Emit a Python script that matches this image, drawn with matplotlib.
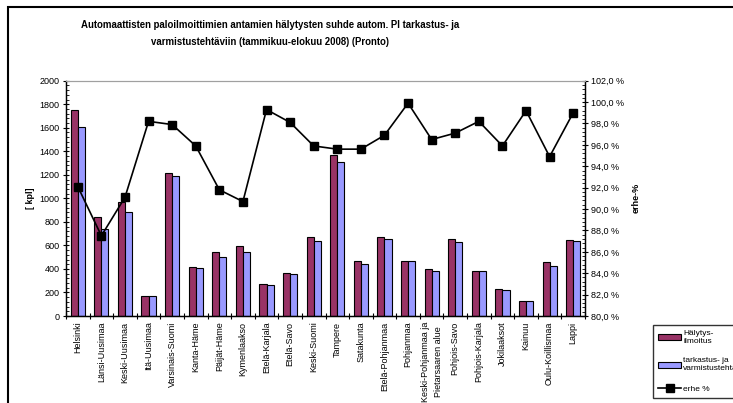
import matplotlib.pyplot as plt
import numpy as np
from matplotlib.patches import Rectangle
from matplotlib.ticker import MultipleLocator, FuncFormatter

plt.rcParams['font.family'] = ['Liberation Sans', 'DejaVu Sans']
plt.rcParams['font.size'] = 6.5

# data
regions = ['Helsinki', 'Länsi-Uusimaa', 'Keski-Uusimaa', 'Itä-Uusimaa', 'Varsinais-Suomi',
           'Kanta-Häme', 'Päijät-Häme', 'Kymenlaakso', 'Etelä-Karjala', 'Etelä-Savo',
           'Keski-Suomi', 'Tampere', 'Satakunta', 'Etelä-Pohjanmaa', 'Pohjanmaa',
           'Keski-Pohjanmaa ja\nPietarsaaren alue', 'Pohjois-Savo', 'Pohjois-Karjala',
           'Jokilaaksot', 'Kainuu', 'Oulu-Koillismaa', 'Lappi']
halytys = [1750, 845, 970, 167, 1213, 420, 547, 598, 275, 365, 669, 1368, 465, 674,
           470, 400, 652, 385, 227, 127, 456, 646]
tarkastus = [1606, 737, 884, 167, 1187, 405, 504, 541, 266, 357, 637, 1306, 445, 652,
             470, 385, 632, 380, 218, 127, 428, 637]
erhe = [92.1, 87.5, 91.1, 98.2, 97.9, 95.9, 91.8, 90.7, 99.3, 98.1, 95.9, 95.6, 95.6,
        96.9, 99.9, 96.5, 97.1, 98.2, 95.9, 99.2, 94.9, 99.0]

red = '#993366'
blue = '#9999FF'

fig = plt.figure(figsize=(7.33, 4.03), dpi=100)
ax = fig.add_axes([66/733, 1-316/403, (585-66)/733, (316-80.7)/403])
ax2 = ax.twinx()

x = np.arange(len(regions))
w = 0.3
b1 = ax.bar(x - w/2, halytys, w, color=red, edgecolor='black', linewidth=0.8,
            label='Hälytys-\nilmoitus')
b2 = ax.bar(x + w/2, tarkastus, w, color=blue, edgecolor='black', linewidth=0.8,
            label='tarkastus- ja\nvarmistustehtävät')
l1, = ax2.plot(x, erhe, 's-', color='black', markersize=6, linewidth=1.2, label='erhe %')

ax.set_xlim(-0.5, len(regions) - 0.5)
ax.set_ylim(0, 2000)
ax2.set_ylim(80, 102)

ax.yaxis.set_major_locator(MultipleLocator(200))
ax.yaxis.set_minor_locator(MultipleLocator(40))
ax2.yaxis.set_major_locator(MultipleLocator(2))
ax2.yaxis.set_minor_locator(MultipleLocator(0.4))
ax2.yaxis.set_major_formatter(FuncFormatter(lambda v, p: f'{v:.1f} %'.replace('.', ',')))

ax.set_xticks(x)
ax.set_xticklabels(regions, rotation=90, fontsize=6.5, linespacing=1.6)
ax.set_xticks(np.arange(-0.5, len(regions)), minor=True)
ax.tick_params(axis='x', which='major', length=0, pad=4)
ax.tick_params(axis='x', which='minor', length=4, direction='inout', width=0.8)
ax.tick_params(axis='y', which='major', length=5, direction='inout', width=0.8, pad=2)
ax.tick_params(axis='y', which='minor', length=2, direction='in', width=0.6)
ax2.tick_params(axis='y', which='major', length=5, direction='inout', width=0.8, pad=2)
ax2.tick_params(axis='y', which='minor', length=2, direction='in', width=0.6)

for a in (ax, ax2):
    a.spines['top'].set_color('#a0a0a0')
    a.spines['left'].set_linewidth(0.9)
    a.spines['right'].set_linewidth(0.9)
    a.spines['bottom'].set_linewidth(0.9)

ax.set_ylabel('[ kpl]', fontweight='bold', fontsize=6.5)
ax.yaxis.set_label_coords(-0.06, 0.5)
ax2.set_ylabel('erhe-%', fontweight='bold', fontsize=6.5)
ax2.yaxis.set_label_coords(1.09, 0.5)

fig.text(0.368, 0.95, 'Automaattisten paloilmoittimien antamien hälytysten suhde autom. Pl tarkastus- ja\n'
         'varmistustehtäviin (tammikuu-elokuu 2008) (Pronto)',
         ha='center', va='top', fontsize=6.9, fontweight='bold', linespacing=1.9)

# outer chart frame
fig.patches.append(Rectangle((7.5/733, -0.2), 1.0, 1.2 - 6.5/403, transform=fig.transFigure,
                             fill=False, edgecolor='black', linewidth=1.5))

fig.legend([b1, b2, l1], [b1.get_label(), b2.get_label(), 'erhe %'],
           loc='upper left', bbox_to_anchor=(653/733, 1-325/403), fontsize=6,
           frameon=True, fancybox=False, edgecolor='black', borderpad=0.6,
           handlelength=2.8, handletextpad=0.2, labelspacing=1.5, borderaxespad=0)

fig.savefig('out.png', dpi=100)
